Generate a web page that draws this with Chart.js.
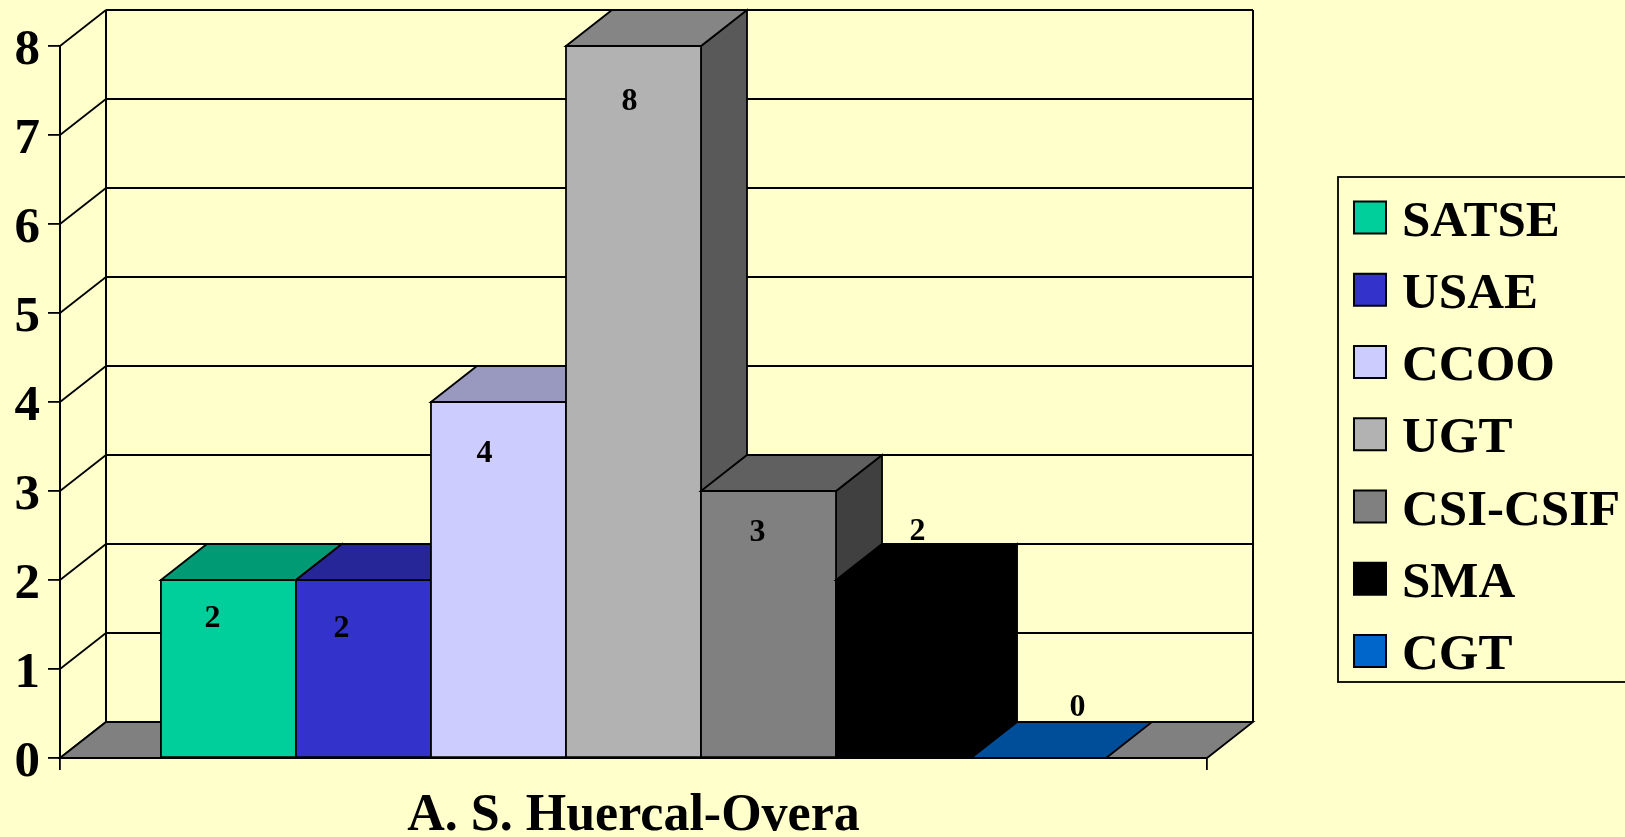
<!DOCTYPE html>
<html>
<head>
<meta charset="utf-8">
<title>A. S. Huercal-Overa</title>
<script src="https://cdn.jsdelivr.net/npm/chart.js@4"></script>
<style>
html,body{margin:0;padding:0;background:#FFFFCC;overflow:hidden}
canvas{display:block}
</style>
</head>
<body>
<canvas id="c" width="1625" height="837"></canvas>
<script>
const categories = ['A. S. Huercal-Overa'];
const seriesNames = ['SATSE','USAE','CCOO','UGT','CSI-CSIF','SMA','CGT'];
const seriesValues = [2,2,4,8,3,2,0];
const yTickMax = 8;

const frontColors = ['#00CF9B','#3333CC','#CCCCFF','#B2B2B2','#808080','#000000','#0066CC'];
const topColors   = ['#009B74','#262699','#9999BF','#858585','#606060','#000000','#004D99'];
const sideColors  = ['#006850','#1A1A66','#666680','#595959','#404040','#000000','#003366'];

const BG = '#FFFFCC', INK = '#000000', FLOOR = '#808080';
const DEPTH_X = 46, DEPTH_Y = -36;
const SERIF = '"Liberation Serif","Times New Roman",serif';
const labelShift = [[-16,39],[-22,49],[-14,52],[-4,56],[-11,42],[14,-48],[39,-50]];
const LW = 1.8;

function poly(ctx, pts, fill, lw){
  ctx.beginPath();
  pts.forEach((p,i)=> i ? ctx.lineTo(p[0],p[1]) : ctx.moveTo(p[0],p[1]));
  ctx.closePath();
  if(fill){ctx.fillStyle=fill;ctx.fill();}
  ctx.lineJoin='miter';
  ctx.strokeStyle=INK;ctx.lineWidth=lw||LW;ctx.stroke();
}
function line(ctx,x1,y1,x2,y2,lw){
  ctx.beginPath();ctx.moveTo(x1,y1);ctx.lineTo(x2,y2);
  ctx.strokeStyle=INK;ctx.lineWidth=lw||LW;ctx.stroke();
}

const box3d = {
  id:'box3d',
  beforeDraw(chart){
    // nudge the value-axis numbers down so they sit centred on their ticks
    chart.scales.y.getLabelItems().forEach(it=>{
      if(!it.nudged){it.textOffset+=5;it.nudged=true;}
    });
  },
  beforeDatasetsDraw(chart){
    const {ctx,chartArea:a,scales:{y}} = chart;
    ctx.save();
    const bx=a.left+DEPTH_X, rx=a.right+DEPTH_X;
    for(let v=0;v<=yTickMax;v++){
      const p=y.getPixelForValue(v);
      line(ctx,bx,p+DEPTH_Y,rx,p+DEPTH_Y,v===yTickMax?2.2:LW);
      line(ctx,a.left,p,bx,p+DEPTH_Y,LW);
    }
    const t=y.getPixelForValue(yTickMax), b=y.getPixelForValue(0);
    line(ctx,a.left,t,a.left,b,2);
    line(ctx,bx,t+DEPTH_Y,bx,b+DEPTH_Y,2);
    line(ctx,rx,t+DEPTH_Y,rx,b+DEPTH_Y,2);
    poly(ctx,[[a.left,b],[bx,b+DEPTH_Y],[rx,b+DEPTH_Y],[a.right,b]],FLOOR,LW);

    // painter's order: left bar first, each one side, top, then front face
    chart.data.datasets.forEach((d,i)=>{
      const meta=chart.getDatasetMeta(i), el=meta.data[0];
      const L=el.x-el.width/2, R=el.x+el.width/2, T=el.y, B=el.base;
      if(T<B) poly(ctx,[[R,T],[R+DEPTH_X,T+DEPTH_Y],[R+DEPTH_X,B+DEPTH_Y],[R,B]],sideColors[i]);
      poly(ctx,[[L,T],[L+DEPTH_X,T+DEPTH_Y],[R+DEPTH_X,T+DEPTH_Y],[R,T]],topColors[i]);
      meta.controller.draw();
      poly(ctx,[[L,T],[R,T],[R,B],[L,B]],null);
    });
    ctx.restore();
  },
  beforeDatasetDraw(){ return false; },
  afterDatasetsDraw(chart){
    const {ctx} = chart;
    ctx.save();
    ctx.fillStyle=INK;
    ctx.font='bold 32px '+SERIF;
    ctx.textAlign='center';ctx.textBaseline='middle';
    chart.data.datasets.forEach((d,i)=>{
      const el=chart.getDatasetMeta(i).data[0];
      ctx.fillText(String(d.data[0]),el.x+labelShift[i][0],el.y+labelShift[i][1]);
    });
    // legend
    const lx=1338, ly=177, lb=682;
    ctx.strokeStyle=INK;ctx.lineWidth=LW;
    ctx.strokeRect(lx,ly,400,lb-ly);
    ctx.textAlign='left';ctx.textBaseline='alphabetic';
    ctx.font='bold 51px '+SERIF;
    chart.data.datasets.forEach((d,i)=>{
      const cy=217.5+72.25*i;
      ctx.fillStyle=d.backgroundColor;
      ctx.fillRect(1354,cy-16,32,32);
      ctx.strokeStyle=INK;ctx.lineWidth=2;
      ctx.strokeRect(1354,cy-16,32,32);
      ctx.fillStyle=INK;
      ctx.fillText(d.label,1402,cy+18);
    });
    ctx.restore();
  }
};

new Chart(document.getElementById('c'),{
  type:'bar',
  data:{
    labels:categories,
    datasets:seriesNames.map((n,i)=>({
      label:n,
      data:[seriesValues[i]],
      backgroundColor:frontColors[i],
      borderColor:INK,
      borderWidth:0
    }))
  },
  plugins:[box3d],
  options:{
    responsive:false,
    animation:false,
    layout:{padding:{left:0,top:46,right:418,bottom:0}},
    barPercentage:1,
    categoryPercentage:0.824,
    plugins:{legend:{display:false},title:{display:false},tooltip:{enabled:false}},
    scales:{
      x:{
        afterFit(s){s.height=79;},
        grid:{display:true,drawOnChartArea:false,drawTicks:true,tickLength:12,color:INK,lineWidth:LW,offset:true},
        border:{display:false},
        ticks:{color:INK,font:{family:SERIF,size:52,weight:'bold',lineHeight:1},padding:21,maxRotation:0,autoSkip:false}
      },
      y:{
        min:0,max:yTickMax,
        afterFit(s){s.width=60;},
        grid:{display:true,drawOnChartArea:false,drawTicks:true,tickLength:12,color:INK,lineWidth:LW},
        border:{display:false},
        ticks:{stepSize:1,color:INK,font:{family:SERIF,size:51,weight:'bold',lineHeight:1},padding:8}
      }
    }
  }
});
</script>
</body>
</html>
